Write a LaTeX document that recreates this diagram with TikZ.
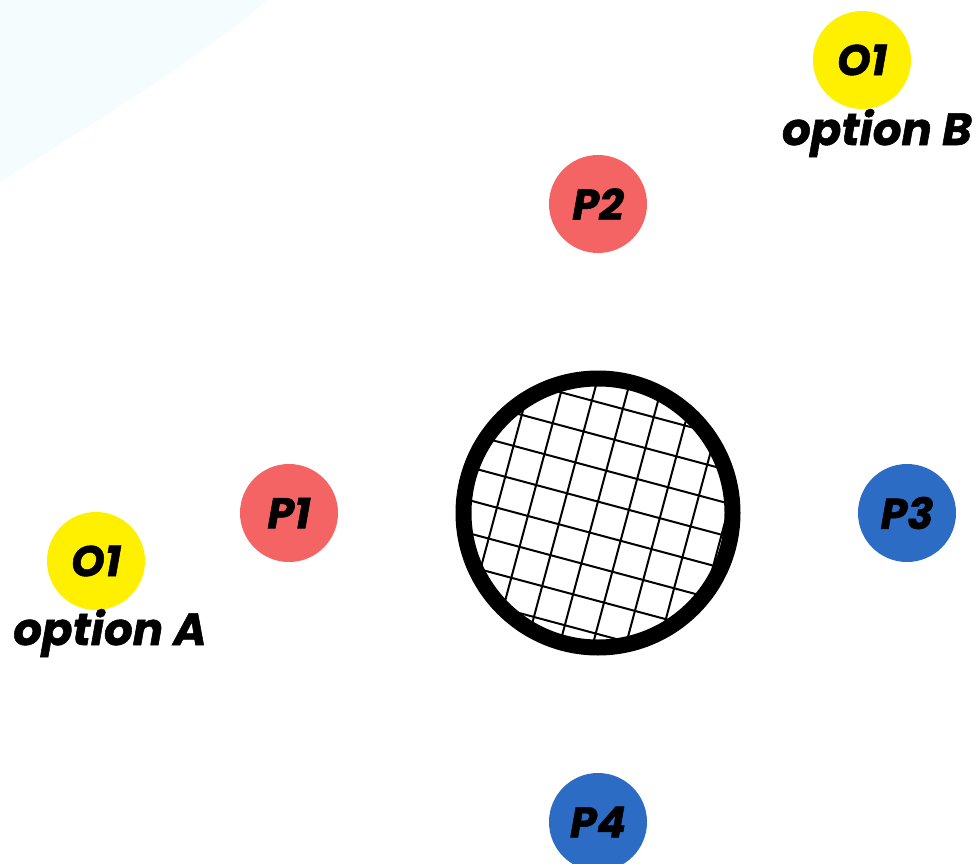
\documentclass[tikz,border=0pt]{standalone}
\usepackage{fontspec}
\setmainfont{Poppins}
\newfontfamily\heavy{Poppins}[UprightFont=*-BoldItalic, FakeBold=1.2]
\definecolor{pred}{HTML}{F46464}
\definecolor{pblue}{HTML}{2C6CC4}
\definecolor{oyellow}{HTML}{FFF000}
\definecolor{haze}{HTML}{F4FCFE}
\tikzset{
  bubble/.style={circle, minimum size=98pt, inner sep=0pt, font=\fontsize{43}{43}\heavy, text=black},
  label text/.style={inner sep=0pt, font=\fontsize{45}{45}\heavy, text=black},
  gridline/.style={line width=2pt, black}
}
\begin{document}
\begin{tikzpicture}[x=1pt,y=-1pt]
  \useasboundingbox (0,0) rectangle (980,864);
  % pale wash in the upper left corner
  \fill[haze] (0,0) -- (268,0) .. controls (190,65) and (90,125) .. (0,182) -- cycle;

  % meshed grid disc
  \coordinate (c) at (598,513);
  \begin{scope}
    \clip (c) circle[radius=136pt];
    \begin{scope}[shift={(598,513)}, rotate=-15]
      \foreach \k in {-5,...,5} {
        \draw[gridline] ({-3+32*\k},-160) -- ({-3+32*\k},160);
        \draw[gridline] (-160,{-11+32*\k}) -- (160,{-11+32*\k});
      }
    \end{scope}
  \end{scope}
  \draw[line width=16pt] (c) circle[radius=134.5pt];

  % points around the disc
  \node[bubble, fill=pred]  (p1) at (289,513) {P1};
  \node[bubble, fill=pred]  (p2) at (598,204) {P2};
  \node[bubble, fill=pblue] (p3) at (907,513) {P3};
  \node[bubble, fill=pblue] (p4) at (598,822) {P4};

  % options
  \node[bubble, fill=oyellow] (oa) at (96,561) {O1};
  \node[label text] (la) at (110,633) {option A};
  \node[bubble, fill=oyellow] (ob) at (862,60) {O1};
  \node[label text] (lb) at (877,133) {option B};
\end{tikzpicture}
\end{document}
